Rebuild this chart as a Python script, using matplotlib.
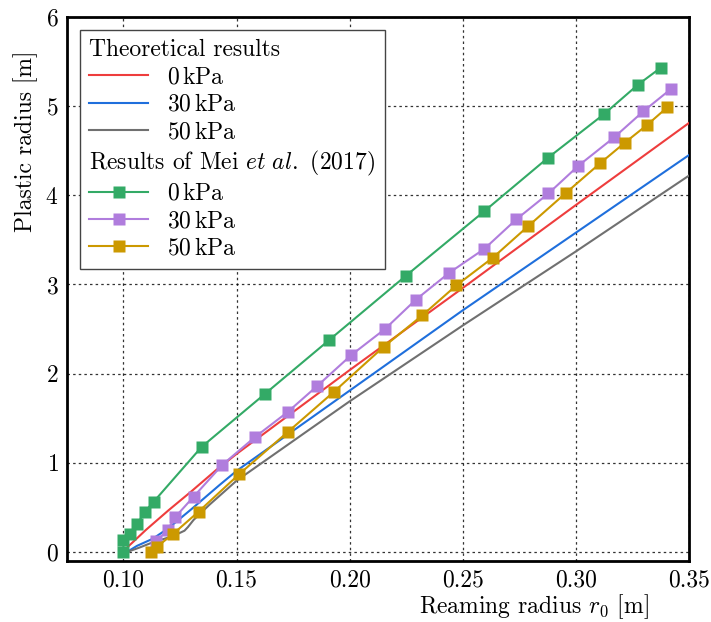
import matplotlib
matplotlib.use('Agg')
import matplotlib.pyplot as plt
from matplotlib.lines import Line2D

plt.rcParams['font.family'] = 'serif'
plt.rcParams['font.serif'] = ['cmr10']
plt.rcParams['mathtext.fontset'] = 'cm'
plt.rcParams['axes.formatter.use_mathtext'] = True
plt.rcParams['axes.unicode_minus'] = False

# theoretical results (lines)
x_th0 = [0.101, 0.102, 0.11, 0.12, 0.13, 0.141, 0.15, 0.175, 0.20, 0.25, 0.30, 0.35]
y_th0 = [0.02, 0.06, 0.25, 0.47, 0.68, 0.92, 1.10, 1.57, 2.04, 2.96, 3.89, 4.81]
x_th30 = [0.1015, 0.106, 0.113, 0.12, 0.13, 0.1424, 0.15, 0.20, 0.25, 0.30, 0.35]
y_th30 = [0.0, 0.07, 0.15, 0.27, 0.48, 0.75, 0.91, 1.81, 2.71, 3.58, 4.45]
x_th50 = [0.1015, 0.107, 0.113, 0.122, 0.127, 0.1285, 0.131, 0.138, 0.15, 0.20, 0.25, 0.30, 0.35]
y_th50 = [0.0, 0.05, 0.11, 0.18, 0.24, 0.28, 0.36, 0.53, 0.80, 1.69, 2.54, 3.37, 4.22]

# Mei et al. (2017)
x_mei0 = [0.100, 0.100, 0.103, 0.106, 0.1094, 0.1134, 0.1346, 0.1624, 0.1911, 0.225, 0.2595, 0.2877, 0.3125, 0.3275, 0.3376]
y_mei0 = [0.0, 0.135, 0.20, 0.31, 0.45, 0.565, 1.18, 1.77, 2.38, 3.10, 3.82, 4.42, 4.91, 5.24, 5.43]
x_mei30 = [0.1144, 0.1196, 0.1228, 0.131, 0.1438, 0.1582, 0.1726, 0.1858, 0.2008, 0.2156, 0.2293, 0.2440,
           0.2596, 0.2737, 0.2879, 0.3011, 0.3170, 0.3298, 0.3420]
y_mei30 = [0.12, 0.25, 0.39, 0.62, 0.98, 1.29, 1.57, 1.865, 2.21, 2.50, 2.83, 3.13,
           3.40, 3.73, 4.02, 4.33, 4.65, 4.94, 5.19]
x_mei50 = [0.1121, 0.1148, 0.1218, 0.1333, 0.151, 0.1726, 0.1932, 0.215, 0.2322, 0.2472,
           0.2633, 0.2790, 0.2958, 0.3108, 0.3217, 0.3316, 0.3404]
y_mei50 = [0.0, 0.06, 0.20, 0.455, 0.87, 1.345, 1.80, 2.30, 2.655, 2.99,
           3.30, 3.655, 4.03, 4.36, 4.59, 4.79, 4.985]

fig = plt.figure(figsize=(7.11, 6.22), dpi=100)
ax = fig.add_axes([0.094, 0.098, 0.875, 0.875])

lw = 1.5
ms = 9
ax.plot(x_th0, y_th0, color='#ee3d3d', lw=lw, zorder=3)
ax.plot(x_th30, y_th30, color='#1f6fdc', lw=lw, zorder=3)
ax.plot(x_th50, y_th50, color='#707070', lw=lw, zorder=3)
ax.plot(x_mei0, y_mei0, color='#33aa66', lw=lw, marker='s', ms=ms, mec='none', zorder=4)
ax.plot(x_mei30, y_mei30, color='#b07ddd', lw=lw, marker='s', ms=ms, mec='none', zorder=4)
ax.plot(x_mei50, y_mei50, color='#cc9900', lw=lw, marker='s', ms=ms, mec='none', zorder=4)

ax.set_xlim(0.075, 0.35)
ax.set_ylim(-0.1, 6)
ax.set_xticks([0.10, 0.15, 0.20, 0.25, 0.30, 0.35])
ax.set_xticklabels(['0.10', '0.15', '0.20', '0.25', '0.30', '0.35'])
ax.set_yticks([0, 1, 2, 3, 4, 5, 6])
ax.tick_params(labelsize=17, length=0, pad=6)
ax.grid(True, color='k', linestyle=(0, (2, 2.5)), linewidth=0.9, alpha=0.8)
for s in ax.spines.values():
    s.set_linewidth(2)

ax.set_xlabel(r'Reaming radius $r_0$ [m]', fontsize=17)
ax.set_ylabel('Plastic radius [m]', fontsize=17)
ax.xaxis.set_label_coords(0.751, -0.058)
ax.yaxis.set_label_coords(-0.047, 0.772)

blank = Line2D([], [], linestyle='none')
handles = [blank,
           Line2D([], [], color='#ee3d3d', lw=lw),
           Line2D([], [], color='#1f6fdc', lw=lw),
           Line2D([], [], color='#707070', lw=lw),
           blank,
           Line2D([], [], color='#33aa66', lw=lw, marker='s', ms=ms, mec='none'),
           Line2D([], [], color='#b07ddd', lw=lw, marker='s', ms=ms, mec='none'),
           Line2D([], [], color='#cc9900', lw=lw, marker='s', ms=ms, mec='none')]
labels = ['Theoretical results', r'0$\,$kPa', r'30$\,$kPa', r'50$\,$kPa',
          r'Results of Mei $\mathit{et\ al.}$ (2017)', r'0$\,$kPa', r'30$\,$kPa', r'50$\,$kPa']
leg = ax.legend(handles, labels, loc='upper left', fontsize=17, fancybox=False,
                edgecolor='#444444', framealpha=1, handlelength=2.5, labelspacing=0.22,
                borderaxespad=0.55, bbox_to_anchor=(0.0, 1.0))
leg.get_frame().set_linewidth(1.0)
for i, hp in enumerate(leg._legend_handle_box.get_children()[0].get_children()):
    if i in (0, 4):
        hp.get_children()[0].set_width(0)
        hp.sep = 0

fig.savefig('out.png', dpi=100)
